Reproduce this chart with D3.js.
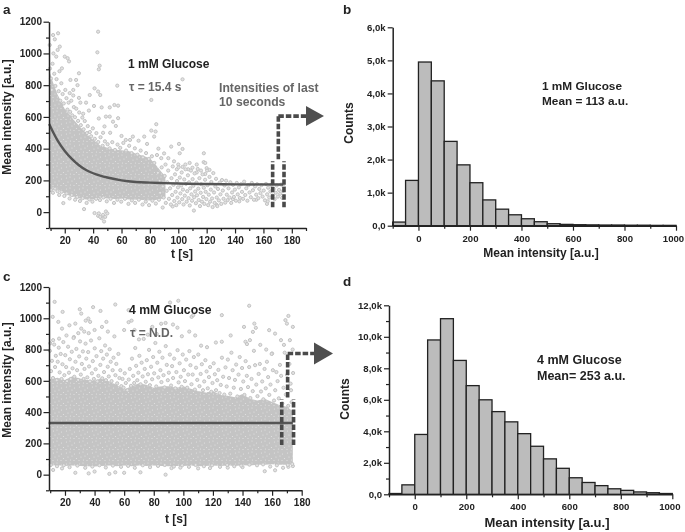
<!DOCTYPE html>
<html><head><meta charset="utf-8">
<script src="https://cdn.jsdelivr.net/npm/d3@7"></script>
<style>html,body{margin:0;background:#fff}svg{display:block;filter:blur(0.35px)}text{font-family:"Liberation Sans",Arial,sans-serif;font-weight:bold}</style>
</head><body><svg id="c" width="685" height="532"></svg>
<script>
// Histograms: bin start values and counts in thousands
const binStarts=[-100,-50,0,50,100,150,200,250,300,350,400,450,500,550,600,650,700,750,800,850,900,950];
const countsB=[.11,1.37,4.95,4.38,2.55,1.84,1.3,.78,.5,.33,.21,.12,.06,.04,.03,.025,.02,.02,.015,.015,.01,.01];
const countsD=[.05,.6,3.8,9.8,11.15,8.5,6.9,6.0,5.25,4.6,3.85,3.05,2.25,1.65,1.05,.75,.55,.35,.25,.15,.1,.05];
// Fit curves
const fitA=[[9,555],[12,500],[15,450],[20,385],[25,335],[30,295],[35,265],[40,245],[45,230],[50,218],[60,200],[70,190],[80,186],[90,183],[100,180],[120,177],[140,175],[174,174]];
const fitC=[[9,330],[174,330]];
// Dense cloud envelopes: t, low, high
const cloudA=[[9.5,150,880],[12,145,810],[15,142,740],[18,128,690],[20,118,650],[23,105,620],[26,95,585],[29,88,555],[32,84,525],[35,80,500],[38,80,470],[41,80,450],[45,90,420],[50,86,405],[55,82,395],[60,84,390],[65,80,385],[70,78,370],[75,76,355],[80,74,340],[84,76,300],[88,82,255],[91,90,225]];
const cloudC=[[9.5,58,610],[15,60,620],[20,56,605],[25,58,630],[30,56,615],[35,54,605],[40,52,600],[45,56,620],[50,58,595],[55,54,575],[60,58,545],[65,54,565],[70,58,585],[75,56,575],[80,58,555],[85,56,565],[90,54,565],[95,56,555],[100,56,565],[105,58,550],[110,54,535],[115,56,525],[120,58,535],[125,56,510],[130,58,505],[135,56,495],[140,60,515],[145,58,485],[150,64,475],[155,64,485],[160,66,465],[165,64,445],[170,64,435],[174,70,405]];
// Individually legible points
const scatterA=[[43.5,1137],[43,1007],[44.6,923],[44,900],[103,837],[57,797],[30,875],[81,707],[11.8,1116],[15.3,1127],[13,1089],[9.4,1053],[16.5,1043],[15,1022],[12,1000],[14,980],[20,980],[22,970],[23,950],[18,906],[28,833],[24,833],[29,800],[26,770],[23.5,750],[41,780],[43.5,760],[45,738],[37.6,738],[40.6,669],[46,660],[51.7,660],[55,675],[57.6,671],[51.7,602],[49,602],[57.6,592],[54,570],[56,543],[84.5,554],[81,514],[84,508],[83,476],[68,476],[76,476],[63,455],[95,413],[100.5,430],[103,398],[101,371],[118,371],[117.9,315],[120,277],[122,266],[33.6,19],[19,57],[12,151],[41,-6],[43.5,-23],[46,-38],[47.7,-59],[49,4],[47,-17],[44,-8],[50,-8],[48.5,-30],[45,-30],[37,640],[33,620],[35,690],[30,720],[26,735],[31,690],[48,540],[44,590],[47,500],[52,500],[60,480],[66,455],[72,450],[78,430],[86,400],[90,370],[93,340],[97,320],[105,300],[110,280],[116,262],[100,300],[103,285],[107,270],[113,250],[119,240],[111,10],[89,29],[96,36],[127,46],[138.5,82],[155,78],[162.5,52],[163,68],[143,68],[119,310],[113,300],[108,310],[99,270],[88,340],[91,300],[85,360],
[9.6,905],[10.3,842],[10.9,770],[11.4,935],[12.6,872],[13.4,795],[14.2,838],[15.7,762],[16.3,888],[16.9,702],[17.6,812],[18.5,744],[19.3,685],[20.4,770],[21.2,718],[21.9,646],[22.7,690],[23.8,632],[24.6,702],[25.3,610],[26.4,662],[27.2,598],[28.1,652],[29.4,575],[30.2,628],[31.3,548],[32.4,596],[33.3,522],[34.1,574],[35.6,498],[36.2,542],[37.7,505],[38.6,478],[39.8,528],[41.2,462],[42.3,498],[43.6,442],[45.2,472],[46.7,418],[48.3,446],[50.2,428],[51.6,402],[53.5,441],[55.4,392],[57.2,426],[59.1,405],[61.3,436],[63.2,388],[65.4,418],[67.1,372],[69.4,402],[71.2,362],[73.5,388],[75.1,345],[77.3,372],[79.2,335],[81.4,352],[83.1,310],[10.2,140],[11.7,122],[13.2,148],[14.9,132],[16.1,108],[17.8,128],[19.7,102],[21.3,118],[23.4,86],[24.9,108],[27.3,78],[28.8,96],[30.7,70],[32.6,88],[35.4,58],[37.3,80],[39.5,66],[42.1,84],[44.8,76],[47.2,92],[49.6,68],[52.3,84],[54.7,58],[57.1,78],[59.8,66],[62.4,84],[64.9,52],[67.3,74],[69.6,58],[72.2,78],[74.8,48],[77.1,66],[79.4,44],[81.8,72],[84.2,54],[86.4,78],
[85.6,248],[86.8,196],[87.2,122],[88.3,282],[89.1,162],[89.7,92],[90.4,228],[91.2,58],[91.8,134],[92.3,188],[92.9,262],[93.4,84],[94.2,150],[94.8,48],[95.2,214],[95.7,108],[96.1,288],[96.6,172],[97.2,70],[97.7,238],[98.1,128],[98.6,44],[99.1,196],[99.4,92],[99.8,156],[100.2,282],[100.7,62],[101.1,218],[101.5,118],[102.1,168],[102.4,250],[102.8,82],[103.3,142],[103.7,48],[104.2,206],[104.6,104],[105.1,270],[105.4,178],[105.9,66],[106.3,132],[106.8,232],[107.2,88],[107.6,188],[108.1,42],[108.4,150],[108.9,262],[109.3,112],[109.7,72],[110.1,208],[110.6,166],[111.2,94],[111.5,244],[111.9,130],[112.4,56],[112.8,186],[113.2,106],[113.7,272],[114.1,148],[114.4,76],[114.9,214],[115.3,38],[115.8,122],[116.2,176],[116.7,66],[117.1,238],[117.5,96],[118,154],[118.4,52],[118.9,204],[119.3,128],[119.8,82],[120.3,262],[120.6,170],[121.1,44],[121.5,110],[122,222],[122.4,66],[122.9,142],[123.3,190],[123.8,86],[124.2,32],[124.7,246],[125.2,124],[125.6,58],[126.1,162],[126.6,210],[127.1,92],[127.5,38],[128,146],[128.6,74],[129.2,186],[129.7,112],[130.3,52],[130.8,202],[131.4,136],[131.9,84],[132.6,168],[133.1,60],[133.7,198],[134.2,110],[134.8,76],[135.4,150],[136.1,92],[136.7,188],[137.3,58],[137.9,124],[138.6,172],[139.2,96],[139.9,142],[140.6,72],[141.2,184],[141.9,112],[142.7,156],[143.4,90],[144.2,176],[144.9,128],[145.7,84],[146.4,192],[147.2,108],[147.9,150],[148.7,72],[149.4,170],[150.2,124],[151.1,94],[151.8,184],[152.6,138],[153.3,78],[154.1,162],[154.9,110],[155.6,176],[156.4,88],[157.1,146],[157.9,120],[158.6,170],[159.4,98],[160.2,136],[161.1,74],[161.8,178],[162.6,112],[163.3,154],[164.1,92],[164.9,130],[165.6,172],[166.4,104],[167.2,146],[167.9,82],[168.7,122],[169.4,168],[170.2,98],[171,140],[171.8,116],[172.5,174],[173.2,90],[173.9,134],[174.3,160]];
const scatterC=[[13,1105],[11.7,1009],[18.4,1041],[30,1058],[31,1030],[39,1071],[44,1047],[54,1088],[63,1052],[91,1101],[96.6,1112],[105.6,1009],[106.7,1020],[126,1020],[144.5,1080],[171,1015],[169,988],[174,945],[170,966],[148,966],[149,939],[141,945],[147,913],[158,924],[162,902],[35.8,998],[37,977],[34,985],[48,977],[27,966],[31,934],[23,955],[18,934],[15.5,977],[33,915],[36,905],[40,925],[45,945],[49,915],[29,905],[26,880],[21,890],[16,870],[12,860],[10,840],[60,925],[63,975],[65,985],[67,925],[70,865],[76,895],[79,945],[82,900],[85,965],[88,970],[93,960],[96,940],[99,885],[104,915],[108,890],[112,825],[116,815],[122,845],[126,850],[132,890],[142,850],[145,860],[143,835],[152,830],[156,800],[160,775],[166,860],[168,830],[172,860],[12,30],[18,40],[27,12],[36,8],[40,20],[50,5],[54,15],[60,12],[71,15],[88,0],[92,42],[98,45],[110,40],[118,42],[130,45],[140,48],[155,22],[162,28],[171,50],[174,55],
[9.8,792],[10.6,662],[11.2,728],[11.9,618],[12.7,832],[13.3,688],[13.8,760],[14.4,604],[15.1,722],[15.8,812],[16.4,654],[17.1,772],[17.7,612],[18.3,706],[18.9,848],[19.6,636],[20.2,764],[20.8,688],[21.4,598],[22.1,818],[22.7,652],[23.3,738],[23.9,612],[24.6,786],[25.1,680],[25.8,874],[26.3,626],[27.1,722],[27.7,804],[28.2,668],[28.9,606],[29.6,756],[30.2,852],[30.7,640],[31.4,708],[32.1,788],[32.6,612],[33.2,676],[33.9,838],[34.4,742],[35.1,622],[35.7,784],[36.3,692],[36.9,596],[37.6,858],[38.2,648],[38.8,726],[39.5,612],[40.1,808],[40.7,674],[41.3,758],[41.9,596],[42.6,632],[43.2,872],[43.9,702],[44.5,790],[45.2,616],[45.8,742],[46.4,656],[47.1,826],[47.7,604],[48.3,768],[48.9,690],[49.6,628],[50.2,802],[50.9,722],[51.5,598],[52.2,668],[52.8,748],[53.4,884],[54.1,636],[54.7,708],[55.3,584],[56.1,772],[56.8,618],[57.4,668],[58.1,566],[58.9,612],[59.6,556],[60.4,648],[61.1,586],[62.2,540],[63.1,608],[63.8,676],[64.6,568],[65.3,742],[66.1,632],[66.8,586],[67.5,810],[68.1,696],[68.9,604],[69.6,652],[70.3,760],[71.1,578],[71.8,716],[72.5,628],[73.2,868],[73.9,676],[74.6,594],[75.3,732],[76.1,642],[76.8,798],[77.4,572],[78.2,690],[78.9,610],[79.6,752],[80.3,648],[81.1,842],[81.7,564],[82.4,716],[83.1,622],[83.8,786],[84.5,668],[85.2,592],[85.9,748],[86.6,636],[87.3,558],[88.1,822],[88.8,702],[89.5,604],[90.2,652],[90.9,768],[91.7,570],[92.4,694],[93.1,618],[93.8,742],[94.6,552],[95.3,656],[96.1,796],[96.8,590],[97.5,712],[98.2,626],[98.9,562],[99.6,768],[100.4,668],[101.1,598],[101.9,736],[102.6,556],[103.3,640],[104.1,790],[104.8,700],[105.5,578],[106.3,640],[107.1,752],[107.8,544],[108.6,684],[109.4,606],[110.1,768],[110.9,566],[111.7,644],[112.5,706],[113.3,540],[114.1,596],[114.9,732],[115.7,660],[116.5,552],[117.3,624],[118.1,688],[118.9,530],[119.7,586],[120.5,712],[121.3,642],[122.1,540],[122.9,604],[123.7,670],[124.5,522],[125.3,574],[126.1,748],[126.9,626],[127.7,512],[128.5,686],[129.3,564],[130.1,736],[130.9,618],[131.7,518],[132.5,780],[133.3,668],[134.1,556],[134.9,606],[135.7,704],[136.5,500],[137.3,640],[138.1,752],[138.9,548],[139.7,682],[140.5,596],[141.3,510],[142.1,726],[142.9,632],[143.7,560],[144.5,688],[145.3,490],[146.1,612],[146.9,534],[147.7,792],[148.5,700],[149.3,576],[150.1,502],[150.9,644],[151.7,708],[152.5,532],[153.3,596],[154.1,482],[154.9,676],[155.7,552],[156.5,722],[157.3,624],[158.1,510],[158.9,576],[159.7,772],[160.5,668],[161.3,474],[162.1,540],[162.9,656],[163.7,598],[164.5,488],[165.3,702],[166.1,632],[166.9,456],[167.7,556],[168.5,780],[169.3,512],[170.1,638],[170.9,440],[171.7,708],[172.5,582],[173.2,464],[173.9,800],[174.2,650],[172.8,540],
[10.4,62],[14.6,54],[19.2,60],[23.1,48],[28.4,58],[33.7,44],[38.5,52],[43.3,60],[47.6,46],[52.4,58],[57.9,50],[62.7,56],[67.2,44],[72.6,60],[77.5,48],[82.9,56],[87.4,62],[93.6,52],[99.2,60],[103.8,50],[108.3,62],[113.9,54],[119.4,60],[124.8,50],[129.6,62],[134.4,54],[139.1,58],[144.7,64],[149.8,60],[153.9,66],[158.7,52],[163.2,60],[167.4,44],[170.6,62],[173.6,68]];
const boxA=[30,320], boxC=[190,480], boxTimes=[166.5,174.5], linkTime=170.5;
const linkTopA=605, linkTopC=775;
const yTicksScatter=d3.range(-100,1201,100), yLabels=[0,200,400,600,800,1000,1200];
const xTicksScatter=d3.range(10,191,10);
const xTicksHist=d3.range(-100,1001,100), xLabelsHist=[0,200,400,600,800,1000];

const svg=d3.select("#c");
const INK="#222", GREY="#c2c2c2", DASH="#4a4a4a", FAINT="#666";
// speckle texture for the dense part of the clouds
const pat=svg.append("defs").append("pattern").attr("id","speck").attr("width",13).attr("height",11).attr("patternUnits","userSpaceOnUse");
pat.append("rect").attr("width",13).attr("height",11).attr("fill","#c4c4c4");
[[1.5,2],[5,1],[9.5,3],[3,6],[7,5],[11.5,7.5],[1,9.5],[5.5,9],[9,9.5]].forEach(p=>pat.append("circle").attr("cx",p[0]).attr("cy",p[1]).attr("r",.6).attr("fill","#e4e4e4"));
function label(x,y,t,size,fill,opt={}){
  const e=svg.append("text").attr("x",x).attr("y",y).attr("font-size",size).attr("fill",fill||INK)
   .attr("text-anchor",opt.anchor||"start").text(t);
  if(opt.rot) e.attr("transform",`rotate(-90 ${x} ${y})`);
  return e;
}
function axis(g,ax,size){
  g.call(ax); g.selectAll("path").attr("stroke",INK).attr("stroke-width",1.5);
  g.selectAll("line").attr("stroke",INK).attr("stroke-width",1.2);
  g.selectAll("text").attr("font-size",size).attr("fill",INK).attr("style",'font-family:"Liberation Sans";font-weight:bold');
}
function styleTicks(g,isMajor,horiz,maj,min){
  g.selectAll(".tick").each(function(d){
    const m=isMajor(d), s=d3.select(this);
    s.select("line").attr(horiz?"y2":"x2",(horiz?1:-1)*(m?maj:min));
    if(!m) s.select("text").remove();
  });
}
function scatter(o){
  const x=d3.scaleLinear().domain(o.xd).range(o.xr), y=d3.scaleLinear().domain([-100,1200]).range(o.yr);
  const area=d3.area().x(d=>x(d[0])).y0(d=>y(d[1])).y1(d=>y(d[2]));
  svg.append("path").attr("d",area(o.cloud)).attr("fill","url(#speck)");
  svg.append("g").selectAll("circle").data(o.pts).join("circle")
    .attr("cx",d=>x(d[0])).attr("cy",d=>y(d[1])).attr("r",1.6)
    .attr("fill","#e2e2e2").attr("stroke",GREY).attr("stroke-width",1);
  const ln=d3.line().x(d=>x(d[0])).y(d=>y(d[1])).curve(d3.curveMonotoneX);
  svg.append("path").attr("d",ln(o.fit)).attr("fill","none").attr("stroke","#555").attr("stroke-width",2.4);
  const dash={stroke:DASH,"stroke-width":3.6,"stroke-dasharray":"5.5 2"};
  const seg=(a,b,c,d)=>{const l=svg.append("line").attr("x1",a).attr("y1",b).attr("x2",c).attr("y2",d);for(const k in dash)l.attr(k,dash[k]);};
  o.boxTimes.forEach(t=>seg(x(t),y(o.box[0]),x(t),y(o.box[1])));
  seg(x(linkTime),y(o.box[1])-2,x(linkTime),y(o.linkTop));
  seg(x(linkTime),y(o.linkTop),o.ar[0],y(o.linkTop));
  const yc=y(o.linkTop);
  svg.append("path").attr("d",`M${o.ar[0]},${yc-o.ar[2]}L${o.ar[1]},${yc}L${o.ar[0]},${yc+o.ar[2]}Z`).attr("fill","#4f4f4f");
  const gy=svg.append("g").attr("transform",`translate(${o.xr[0]},0)`);
  axis(gy,d3.axisLeft(y).tickValues(yTicksScatter).tickFormat(d=>d).tickSizeOuter(0),10);
  styleTicks(gy,d=>yLabels.includes(d),false,5.5,3);
  gy.selectAll("text").attr("x",-7);
  const gx=svg.append("g").attr("transform",`translate(0,${o.yr[0]})`);
  axis(gx,d3.axisBottom(x).tickValues(xTicksScatter.filter(t=>t<=o.xd[1])).tickFormat(d=>d).tickSizeOuter(0),10);
  styleTicks(gx,d=>d%20===0,true,5.5,3);
  gx.selectAll("text").attr("y",9);
}
scatter({xd:[8.9,190],xr:[49,306],yr:[228,21.7],cloud:cloudA,pts:scatterA,fit:fitA,box:boxA,boxTimes,linkTop:linkTopA,ar:[306,324,10]});
scatter({xd:[9.2,180],xr:[49,301.7],yr:[490.3,287],cloud:cloudC,pts:scatterC,fit:fitC,box:boxC,boxTimes,linkTop:linkTopC,ar:[314,333,11]});

function hist(o){
  const x=d3.scaleLinear().domain([-100,1000]).range(o.xr), y=d3.scaleLinear().domain([0,o.top]).range(o.yr);
  svg.append("g").selectAll("rect").data(o.counts).join("rect")
    .attr("x",(d,i)=>x(binStarts[i])).attr("width",(d,i)=>x(binStarts[i]+50)-x(binStarts[i]))
    .attr("y",d=>y(d)).attr("height",d=>y(0)-y(d))
    .attr("fill","#bcbcbc").attr("stroke",INK).attr("stroke-width",1.3);
  const gy=svg.append("g").attr("transform",`translate(${o.xr[0]},0)`);
  axis(gy,d3.axisLeft(y).tickValues(o.yTicks).tickFormat(d=>d.toFixed(1).replace(".",",")+(d?"k":"")).tickSizeOuter(0),9.6);
  styleTicks(gy,o.major,false,5,3);
  gy.selectAll("text").attr("x",-7);
  const gx=svg.append("g").attr("transform",`translate(0,${o.yr[0]})`);
  axis(gx,d3.axisBottom(x).tickValues(xTicksHist).tickFormat(d=>d).tickSizeOuter(0),9.6);
  styleTicks(gx,d=>xLabelsHist.includes(d),true,5,3);
  gx.selectAll("text").attr("y",9).filter(d=>d===1000).attr("x",-3);
}
hist({xr:[392.7,676],yr:[225.7,27.3],top:6,counts:countsB,yTicks:[0,1,2,3,4,5,6],major:()=>true});
hist({xr:[389,672.3],yr:[494.3,305.3],top:12,counts:countsD,yTicks:d3.range(0,13),major:d=>d%2===0});

label(3,14,"a",13.5); label(343,14,"b",13.5); label(3,281,"c",13.5); label(343,286,"d",13.5);
label(11,117,"Mean intensity [a.u.]",12,INK,{anchor:"middle",rot:1});
label(11,380,"Mean intensity [a.u.]",12,INK,{anchor:"middle",rot:1});
label(353,123,"Counts",12,INK,{anchor:"middle",rot:1});
label(349,399,"Counts",12,INK,{anchor:"middle",rot:1});
label(182,258,"t [s]",12,INK,{anchor:"middle"});
label(176,523,"t [s]",12,INK,{anchor:"middle"});
label(541,257,"Mean intensity [a.u.]",12,INK,{anchor:"middle"});
label(547,527,"Mean intensity [a.u.]",13,INK,{anchor:"middle"});
label(128,68,"1 mM Glucose",12);
label(129,91,"τ = 15.4 s",12,FAINT);
label(219,92,"Intensities of last",12.2,FAINT);
label(219,106,"10 seconds",12.2,FAINT);
label(129,314,"4 mM Glucose",12.2);
label(130,337,"τ = N.D.",12,FAINT);
label(542,90,"1 mM Glucose",11.8);
label(542,105,"Mean = 113 a.u.",11.8);
label(537,364,"4 mM Glucose",12.5);
label(537,380,"Mean= 253 a.u.",12.5);
</script></body></html>
